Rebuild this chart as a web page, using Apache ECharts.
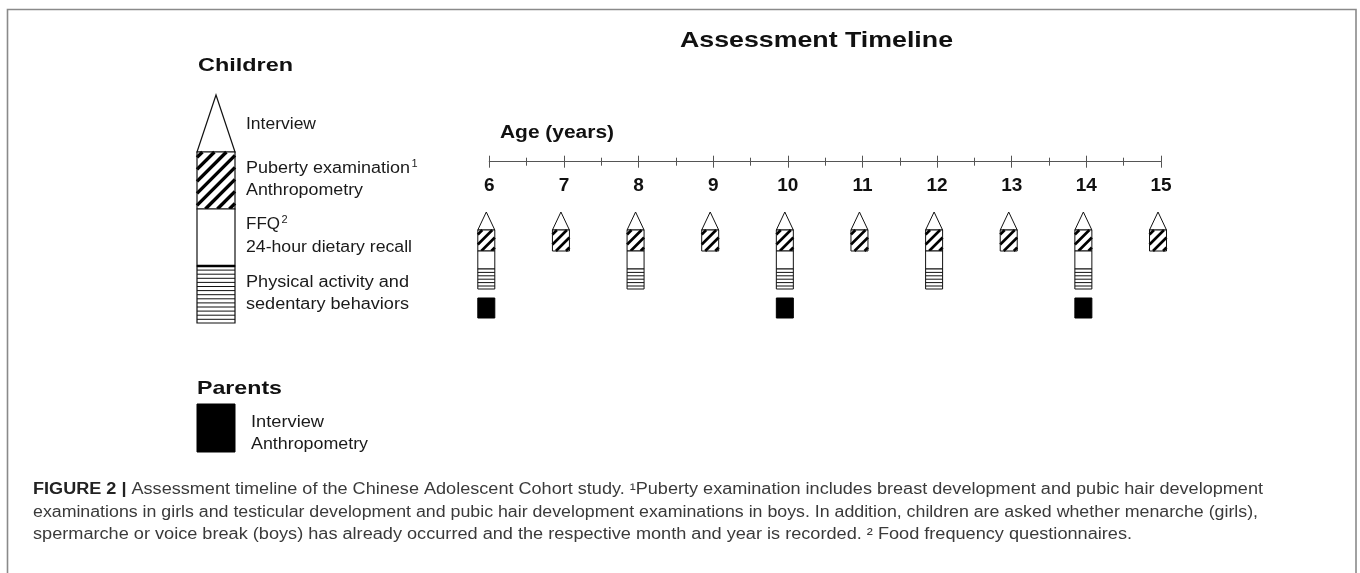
<!DOCTYPE html>
<html><head><meta charset="utf-8">
<script src="https://cdn.jsdelivr.net/npm/echarts@6/dist/echarts.min.js"></script>
<style>html,body{margin:0;padding:0;background:#fff}#c{width:1360px;height:573px}</style>
</head><body><div id="c"></div>
<script>
// ---- data ----
const ageTicks = [6, 7, 8, 9, 10, 11, 12, 13, 14, 15];
const interviewAges = [6, 7, 8, 9, 10, 11, 12, 13, 14, 15];
const pubertyAges = [6, 7, 8, 9, 10, 11, 12, 13, 14, 15];
const dietAges = [6, 8, 10, 12, 14];
const activityAges = [6, 8, 10, 12, 14];
const parentAges = [6, 10, 14];
const titleText = 'Assessment Timeline';
const axisTitle = 'Age (years)';
const childLegendLabels = ['Interview', 'Puberty examination', 'Anthropometry', 'FFQ', '24-hour dietary recall', 'Physical activity and', 'sedentary behaviors'];
const childLegendSups = ['', '1', '', '2', '', '', ''];
const parentLegendLabels = ['Interview', 'Anthropometry'];
const captionBold = 'FIGURE 2 |';
const captionLines = [
  ' Assessment timeline of the Chinese Adolescent Cohort study. \u00B9Puberty examination includes breast development and pubic hair development',
  'examinations in girls and testicular development and pubic hair development examinations in boys. In addition, children are asked whether menarche (girls),',
  'spermarche or voice break (boys) has already occurred and the respective month and year is recorded. \u00B2 Food frequency questionnaires.'
];

// ---- helpers ----
const FAMILY = "'Liberation Sans', Arial, sans-serif";
const mctx = document.createElement('canvas').getContext('2d');
function tw(str, size, weight) { mctx.font = `${weight} ${size}px ${FAMILY}`; return mctx.measureText(str).width; }
function txt(str, x, y, size, weight, color, target) {
  const w = tw(str, size, weight);
  return { type: 'text', x: x, y: y, scaleX: target ? target / w : 1, silent: true,
    style: { text: str, fontSize: size, fontWeight: weight, fontFamily: FAMILY, fill: color, verticalAlign: 'middle', align: 'left' } };
}
function hatchLines(x0, y0, w, h, step, lw) {
  const out = [];
  for (let c = x0 + y0 + step * 0.45; c < x0 + w + y0 + h; c += step) {
    const xa = Math.max(x0, c - (y0 + h)), ya = c - xa;
    const xb = Math.min(x0 + w, c - y0), yb = c - xb;
    if (xb > xa + 0.5) out.push({ type: 'line', shape: { x1: xa, y1: ya, x2: xb, y2: yb }, style: { stroke: '#000', lineWidth: lw, lineCap: 'butt' } });
  }
  return out;
}
const STROKE = '#111';
function part(kind, cx, L) {
  const x0 = cx - L.w / 2, w = L.w;
  const [a, b] = L[kind];
  const h = b - a;
  const border = { type: 'rect', shape: { x: x0, y: a, width: w, height: h }, style: { fill: null, stroke: STROKE, lineWidth: L.lw } };
  if (kind === 'tri') {
    return { type: 'polygon', shape: { points: [[x0, b], [cx, a], [x0 + w, b]] }, style: { fill: '#fff', stroke: STROKE, lineWidth: L.lw } };
  }
  if (kind === 'hatch') {
    return { type: 'group', children: [
      { type: 'rect', shape: { x: x0, y: a, width: w, height: h }, style: { fill: '#fff' } },
      ...hatchLines(x0, a, w, h, L.hatchStep, L.hatchW), border] };
  }
  if (kind === 'diet') {
    return { type: 'rect', shape: { x: x0, y: a, width: w, height: h }, style: { fill: '#fff', stroke: STROKE, lineWidth: L.lw } };
  }
  if (kind === 'act') {
    const ch = [{ type: 'rect', shape: { x: x0, y: a, width: w, height: h }, style: { fill: '#fff' } }];
    for (let y = a + L.actStep; y < b - L.actStep * 0.4; y += L.actStep) {
      ch.push({ type: 'line', shape: { x1: x0, y1: y, x2: x0 + w, y2: y }, style: { stroke: STROKE, lineWidth: L.actW } });
    }
    ch.push(border);
    if (L.divider) ch.push({ type: 'line', shape: { x1: x0, y1: a, x2: x0 + w, y2: a }, style: { stroke: '#000', lineWidth: L.divider } });
    return { type: 'group', children: ch };
  }
  if (kind === 'parent') {
    return { type: 'rect', shape: { x: x0, y: a, width: w, height: h }, style: { fill: '#000', stroke: '#000', lineWidth: 1 } };
  }
}

// layouts (pixels)
const MARK = { w: 17, dx: -3, lw: 1, tri: [212, 230], hatch: [230, 251], diet: [251, 269], act: [269, 289], parent: [298, 318], hatchStep: 10, hatchW: 2.6, actStep: 3.4, actW: 1 };
const LEG = { w: 38, lw: 1.2, tri: [95, 152], hatch: [152, 209], diet: [209, 266], act: [266, 323], parent: [404, 452], hatchStep: 12, hatchW: 3.4, actStep: 4.1, actW: 1, divider: 2.6 };
const LEG_CX = 216;

function glyphSeries(kind, ages) {
  return {
    type: 'custom', name: kind, xAxisIndex: 0, yAxisIndex: 0, clip: false, silent: true,
    data: ages.map(a => [a, 0]),
    renderItem(params, api) {
      const cx = api.coord([api.value(0), 0])[0] + MARK.dx;
      return part(kind, cx, MARK);
    }
  };
}

const axisColor = '#555';
const AXIS_Y = 161.7;

// graphic elements
const graphics = [];
graphics.push({ type: 'polyline', silent: true, shape: { points: [[7.5, 573], [7.5, 9.5], [1356, 9.5], [1356, 573]] }, style: { fill: null, stroke: '#8a8a8a', lineWidth: 1.6 } });
graphics.push(txt(titleText, 680, 41, 22, 'bold', '#111', 273));
graphics.push(txt('Children', 198, 66, 19, 'bold', '#111', 95));
graphics.push(txt('Parents', 197, 389, 19, 'bold', '#111', 85));
graphics.push(txt(axisTitle, 500, 133, 18, 'bold', '#111', 114));
// child legend glyph
['tri', 'hatch', 'diet', 'act'].forEach(k => graphics.push(part(k, LEG_CX, LEG)));
graphics.push(part('parent', LEG_CX, LEG));
const childLabelPos = [[246, 125, 70], [246, 169, 164], [246, 191, 117], [246, 225, 34], [246, 248, 166], [246, 283, 163], [246, 305, 163]];
childLegendLabels.forEach((s, i) => {
  const p = childLabelPos[i];
  graphics.push(txt(s, p[0], p[1], 16, 'normal', '#1a1a1a', p[2]));
  if (childLegendSups[i]) graphics.push(txt(childLegendSups[i], p[0] + p[2] + 1.5, p[1] - 5, 11, 'normal', '#1a1a1a'));
});
const parentLabelPos = [[251, 423, 73], [251, 445, 117]];
parentLegendLabels.forEach((s, i) => graphics.push(txt(s, parentLabelPos[i][0], parentLabelPos[i][1], 16, 'normal', '#1a1a1a', parentLabelPos[i][2])));
// caption
const capX = 33, capSize = 16, capY = [490, 513, 535], capTargets = [1230, 1225, 1099];
(function () {
  const wb = tw(captionBold, capSize, 'bold');
  const wr = tw(captionLines[0], capSize, 'normal');
  const s = capTargets[0] / (wb + wr);
  graphics.push(txt(captionBold, capX, capY[0], capSize, 'bold', '#222', wb * s));
  graphics.push(txt(captionLines[0], capX + wb * s, capY[0], capSize, 'normal', '#3a3a3a', wr * s));
  for (let i = 1; i < 3; i++) graphics.push(txt(captionLines[i], capX, capY[i], capSize, 'normal', '#3a3a3a', capTargets[i]));
})();

const chart = echarts.init(document.getElementById('c'), null, { renderer: 'canvas' });
chart.setOption({
  animation: false,
  backgroundColor: '#fff',
  grid: [
    { left: 489.3, width: 671.7, top: AXIS_Y, height: 200 },
    { left: 489.3, width: 671.7, top: AXIS_Y - 100, height: 100 }
  ],
  xAxis: [
    { type: 'value', min: 6, max: 15, interval: 1, position: 'top', gridIndex: 0,
      axisLine: { show: true, onZero: false, lineStyle: { color: axisColor, width: 1 } }, splitLine: { show: false },
      axisTick: { show: true, inside: false, length: 6, lineStyle: { color: axisColor } },
      minorTick: { show: true, splitNumber: 2, length: 4, lineStyle: { color: axisColor } },
      axisLabel: { show: false } },
    { type: 'value', min: 6, max: 15, interval: 1, position: 'bottom', gridIndex: 1,
      axisLine: { show: true, onZero: false, lineStyle: { color: axisColor, width: 1 } }, splitLine: { show: false },
      axisTick: { show: true, inside: false, length: 6, lineStyle: { color: axisColor } },
      minorTick: { show: true, splitNumber: 2, length: 4, lineStyle: { color: axisColor } },
      axisLabel: { show: true, margin: 15, fontSize: 19, fontWeight: 'bold', fontFamily: FAMILY, color: '#111',
        formatter: v => ageTicks.includes(v) ? String(v) : '' } }
  ],
  yAxis: [
    { type: 'value', min: 0, max: 1, show: false, gridIndex: 0 },
    { type: 'value', min: 0, max: 1, show: false, gridIndex: 1 }
  ],
  series: [
    glyphSeries('tri', interviewAges),
    glyphSeries('hatch', pubertyAges),
    glyphSeries('diet', dietAges),
    glyphSeries('act', activityAges),
    glyphSeries('parent', parentAges)
  ],
  graphic: graphics
});
</script>
</body></html>
